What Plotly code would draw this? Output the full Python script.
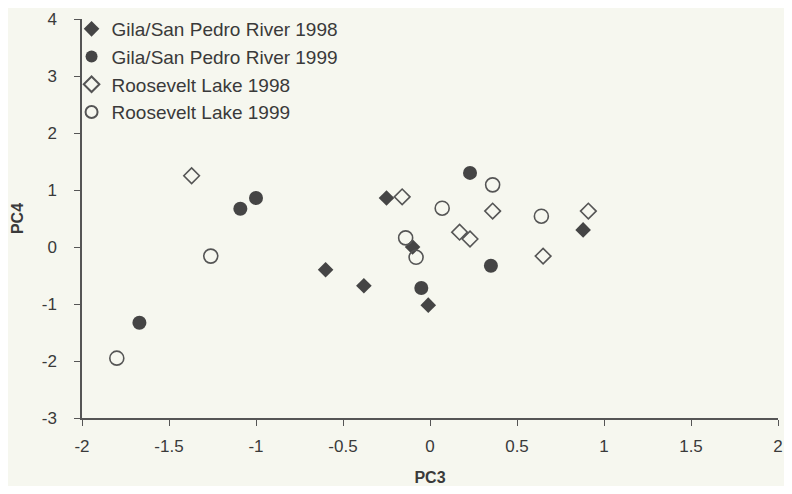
import plotly.graph_objects as go

gila98_x = [-0.25, -0.60, -0.38, -0.01, -0.10, 0.88]
gila98_y = [0.86, -0.40, -0.68, -1.02, 0.00, 0.30]

gila99_x = [-1.67, -1.09, -1.00, 0.23, 0.35, -0.05]
gila99_y = [-1.33, 0.67, 0.86, 1.30, -0.33, -0.72]

roos98_x = [-1.37, -0.16, 0.17, 0.23, 0.36, 0.91, 0.65]
roos98_y = [1.25, 0.88, 0.26, 0.14, 0.63, 0.63, -0.16]

roos99_x = [-1.80, -1.26, 0.07, 0.36, -0.14, -0.08, 0.64]
roos99_y = [-1.95, -0.16, 0.68, 1.09, 0.16, -0.18, 0.54]

x_ticks = [-2, -1.5, -1, -0.5, 0, 0.5, 1, 1.5, 2]
y_ticks = [-3, -2, -1, 0, 1, 2, 3, 4]

bg = "#f6f7ef"
dark = "#454545"
axis_col = "#555555"

fig = go.Figure()
fig.add_trace(go.Scatter(x=gila98_x, y=gila98_y, mode="markers", name="Gila/San Pedro River 1998",
                         marker=dict(symbol="diamond", size=12, color=dark, line=dict(width=0))))
fig.add_trace(go.Scatter(x=gila99_x, y=gila99_y, mode="markers", name="Gila/San Pedro River 1999",
                         marker=dict(symbol="circle", size=14, color=dark, line=dict(width=0))))
fig.add_trace(go.Scatter(x=roos98_x, y=roos98_y, mode="markers", name="Roosevelt Lake 1998",
                         marker=dict(symbol="diamond-open", size=12, color="#555555", line=dict(width=1.6))))
fig.add_trace(go.Scatter(x=roos99_x, y=roos99_y, mode="markers", name="Roosevelt Lake 1999",
                         marker=dict(symbol="circle-open", size=14, color="#555555", line=dict(width=1.6))))

fig.update_layout(
    width=776, height=478,
    paper_bgcolor=bg, plot_bgcolor=bg,
    margin=dict(l=74, r=6, t=11, b=68, autoexpand=False),
    font=dict(family="Liberation Sans, Arial, sans-serif", color="#3a3a3a", size=17),
    showlegend=True,
    legend=dict(x=-0.015, y=1.0226, xanchor="left", yanchor="top", bgcolor="rgba(0,0,0,0)",
                font=dict(size=19, color="#3a3a3a"), itemwidth=30, itemsizing="constant",
                tracegroupgap=0),
    xaxis=dict(range=[-2, 2], tickvals=x_ticks, ticktext=[str(v) for v in x_ticks],
               showgrid=False, zeroline=False, showline=True, linecolor=axis_col, linewidth=1.5,
               ticks="outside", ticklen=6, tickcolor=axis_col, automargin=False,
               ticklabeloverflow="allow", ticklabelstandoff=6,
               title=dict(text="<b>PC3</b>", font=dict(size=16), standoff=25)),
    yaxis=dict(range=[-3, 4], tickvals=y_ticks, ticktext=[str(v) for v in y_ticks],
               showgrid=False, zeroline=False, showline=True, linecolor=axis_col, linewidth=1.5,
               ticks="outside", ticklen=6, tickcolor=axis_col, automargin=False,
               ticklabelstandoff=14,
               title=dict(text="<b>PC4</b>", font=dict(size=16), standoff=14)),
)

fig.write_html("out.html")
